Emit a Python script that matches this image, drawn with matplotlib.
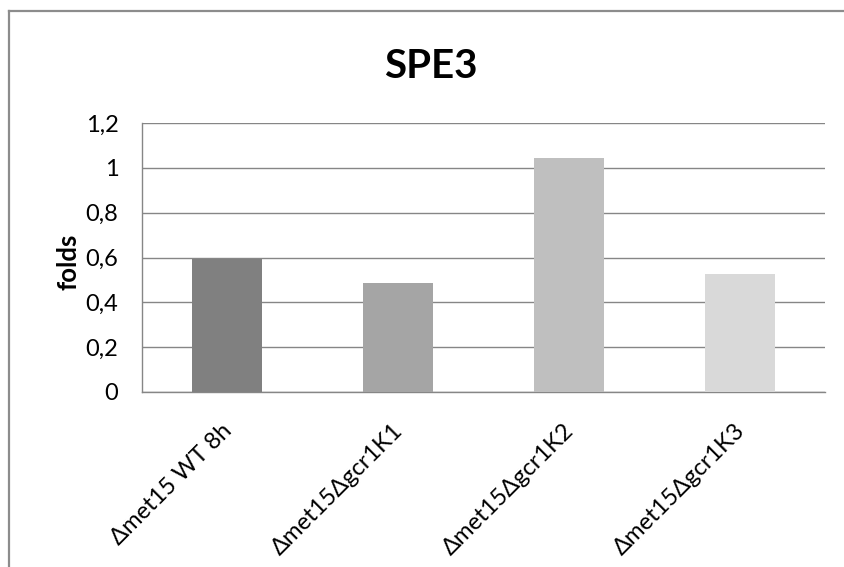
import matplotlib

matplotlib.use("Agg")
import matplotlib.pyplot as plt
from matplotlib.lines import Line2D
from matplotlib.transforms import ScaledTranslation


CATEGORIES = ["\u0394met15 WT 8h", "\u0394met15\u0394gcr1K1", "\u0394met15\u0394gcr1K2", "\u0394met15\u0394gcr1K3"]
VALUES = [0.594, 0.487, 1.044, 0.527]
BAR_COLORS = ["#808080", "#a5a5a5", "#bfbfbf", "#d9d9d9"]
Y_TICKS = [0, 0.2, 0.4, 0.6, 0.8, 1.0, 1.2]
Y_TICK_LABELS = ["0", "0,2", "0,4", "0,6", "0,8", "1", "1,2"]

FONT = ["Lato", "DejaVu Sans"]
GRID = "#868686"


def main():
    plt.rcParams["font.family"] = FONT
    fig = plt.figure(figsize=(8.45, 5.67), dpi=100)
    W, H = 845, 567

    # chart border (continues past right/bottom edge of the picture)
    fig.add_artist(Line2D([9.5 / W, 9.5 / W], [0, 1 - 11 / H], color="#8c8c8c", lw=1.6,
                          transform=fig.transFigure))
    fig.add_artist(Line2D([9.5 / W, 1], [1 - 11 / H, 1 - 11 / H], color="#8c8c8c", lw=1.6,
                          transform=fig.transFigure))

    ax = fig.add_axes([142 / W, 1 - 392 / H, (825 - 142) / W, (392 - 123) / H])
    x = list(range(len(CATEGORIES)))
    ax.bar(x, VALUES, width=0.41, color=BAR_COLORS, zorder=3)

    ax.set_xlim(-0.5, len(CATEGORIES) - 0.5)
    ax.set_ylim(0, 1.2)
    ax.set_yticks(Y_TICKS)
    ax.set_yticklabels(Y_TICK_LABELS, fontsize=17)
    ax.yaxis.grid(True, color=GRID, lw=1.0, zorder=0)
    ax.tick_params(axis="y", length=0, pad=17)

    # category labels, rotated like the spreadsheet chart
    ax.set_xticks(x)
    ax.set_xticklabels([])
    ax.tick_params(axis="x", length=0)
    shift = ScaledTranslation(-0.06, -0.28, fig.dpi_scale_trans)
    for pos, name in zip(x, CATEGORIES):
        ax.text(pos, 0, name, transform=ax.get_xaxis_transform() + shift,
                rotation=45, rotation_mode="anchor", ha="right", va="top",
                fontsize=17)

    for side in ["top", "right"]:
        ax.spines[side].set_visible(False)
    for side in ["left", "bottom"]:
        ax.spines[side].set_color(GRID)
        ax.spines[side].set_linewidth(1.0)

    ax.set_ylabel("folds", fontsize=18.5, fontweight="bold")
    ax.yaxis.set_label_coords(-0.09, 0.483)

    fig.text(431 / W, 1 - 66 / H, "SPE3", fontsize=29, fontweight="bold",
             ha="center", va="center")

    fig.savefig("out.png", dpi=100)
    plt.close(fig)


if __name__ == "__main__":
    main()
